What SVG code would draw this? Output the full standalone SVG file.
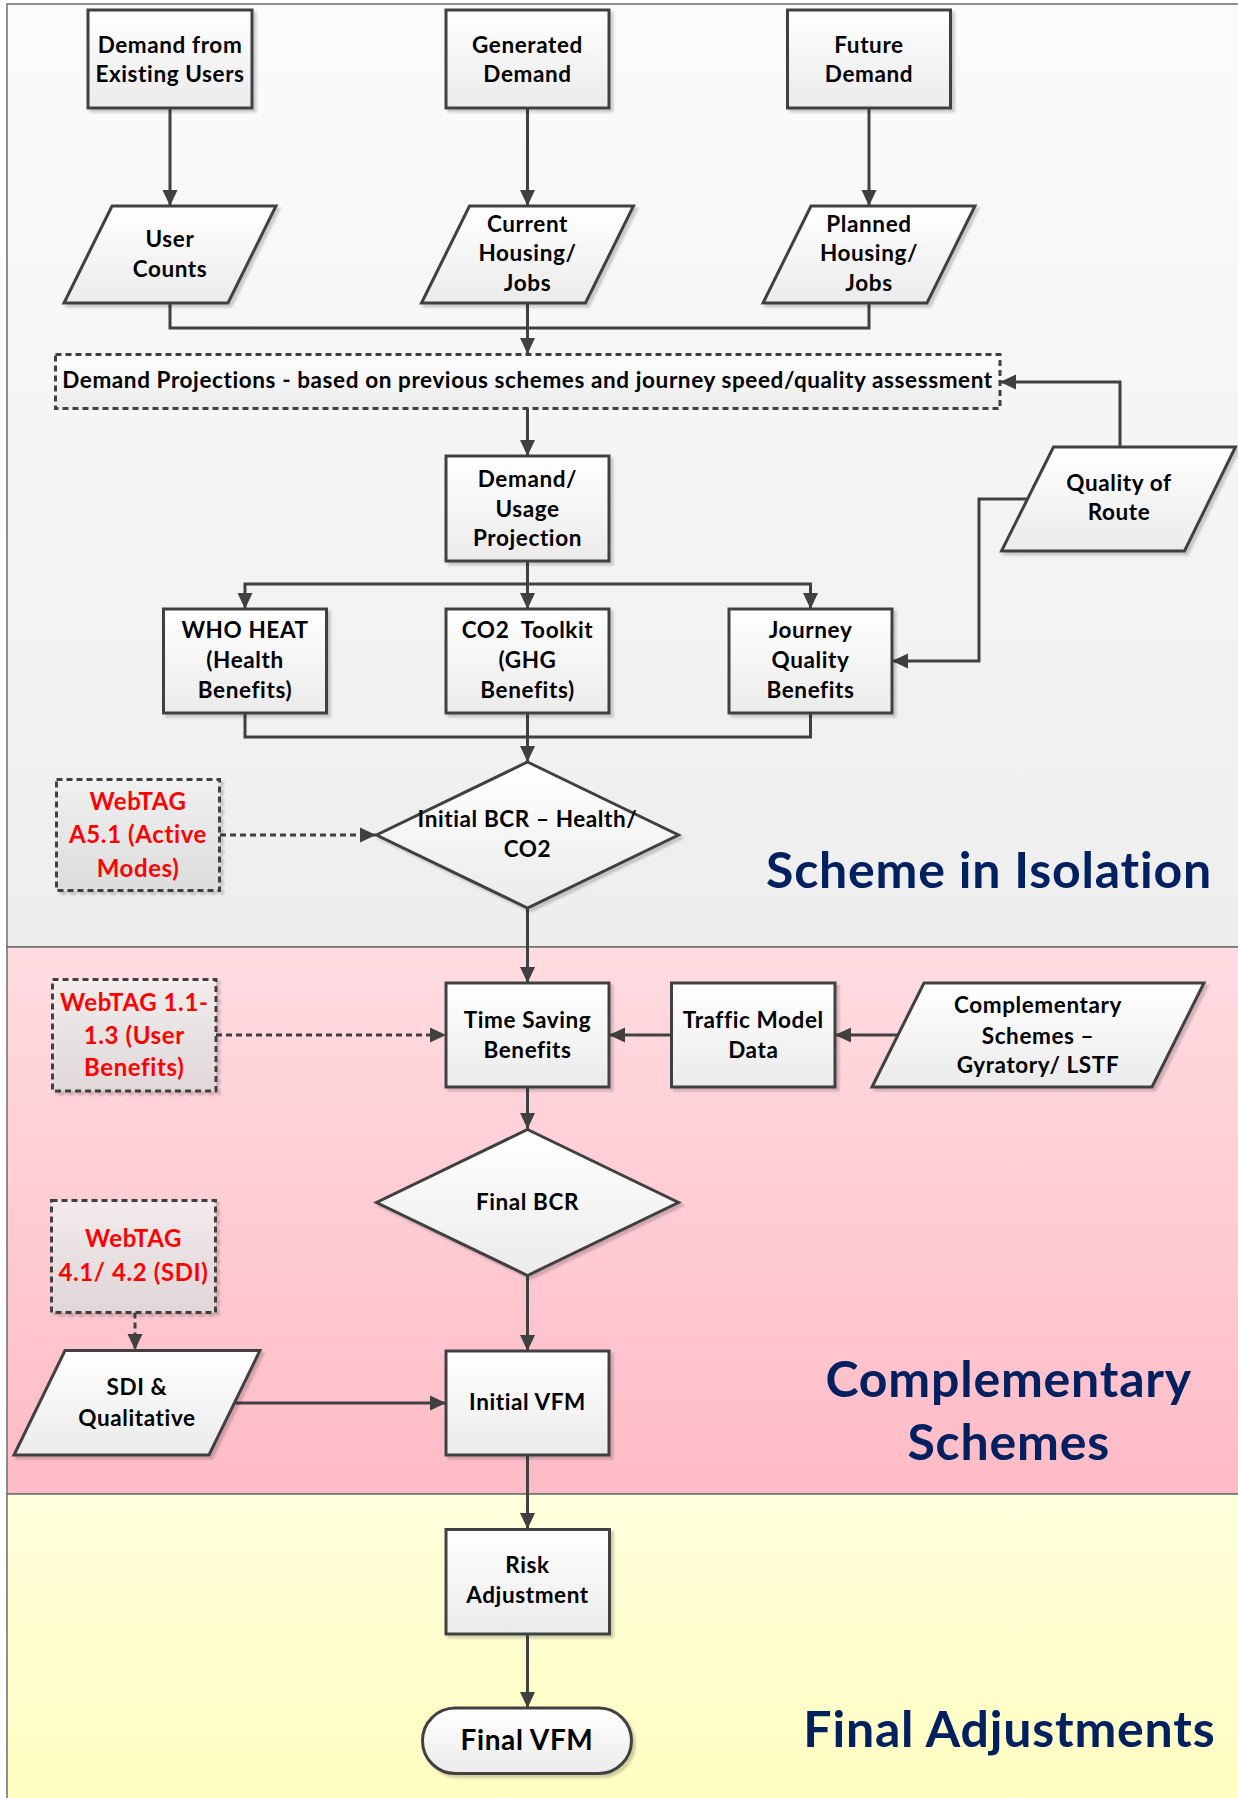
<svg xmlns="http://www.w3.org/2000/svg" width="1238" height="1798" viewBox="0 0 1238 1798">
<defs>
<linearGradient id="bg1" x1="0" y1="0" x2="0" y2="1"><stop offset="0" stop-color="#FBFBFB"/><stop offset="1" stop-color="#EEEEEE"/></linearGradient>
<linearGradient id="bg2" x1="0" y1="0" x2="0" y2="1"><stop offset="0" stop-color="#FFDCE1"/><stop offset="1" stop-color="#FFBBC6"/></linearGradient>
<linearGradient id="bg3" x1="0" y1="0" x2="0" y2="1"><stop offset="0" stop-color="#FFFFDC"/><stop offset="1" stop-color="#FFFDC0"/></linearGradient>
<linearGradient id="nodeFill" x1="0" y1="0" x2="0" y2="1"><stop offset="0" stop-color="#FFFFFF"/><stop offset="1" stop-color="#EBEBEB"/></linearGradient>
<linearGradient id="refFill" x1="0" y1="0" x2="0" y2="1"><stop offset="0" stop-color="#F4F4F4" stop-opacity="0.8"/><stop offset="1" stop-color="#DCDCDC" stop-opacity="0.8"/></linearGradient>
<filter id="sh" x="-10%" y="-10%" width="130%" height="130%"><feDropShadow dx="3" dy="3" stdDeviation="1.2" flood-color="#000" flood-opacity="0.18"/></filter>
<marker id="ah" markerUnits="userSpaceOnUse" markerWidth="16" markerHeight="16" viewBox="0 0 16 16" refX="16" refY="8" orient="auto"><path d="M0,0.5 L16,8 L0,15.5 z" fill="#404040"/></marker>
</defs>
<style>
.shape{fill:url(#nodeFill);stroke:#404040;stroke-width:3;filter:url(#sh)}
.ref{fill:url(#refFill);stroke:#404040;stroke-width:3;stroke-dasharray:6 4;filter:url(#sh)}
.proj{fill:url(#nodeFill);stroke:#404040;stroke-width:3;stroke-dasharray:6 4}
.t{font-family:Lato,"Liberation Sans",sans-serif;font-weight:bold;font-size:22.5px;letter-spacing:0.6px;fill:#000;text-anchor:middle}
.r{font-family:Lato,"Liberation Sans",sans-serif;font-weight:bold;font-size:24px;letter-spacing:0.6px;fill:#FF0000;text-anchor:middle}
.title{font-family:Lato,"Liberation Sans",sans-serif;font-weight:bold;font-size:50px;letter-spacing:0.8px;fill:#002060;text-anchor:middle}
.c{fill:none;stroke:#404040;stroke-width:3;marker-end:url(#ah)}
.cn{fill:none;stroke:#404040;stroke-width:3}
.cd{fill:none;stroke:#404040;stroke-width:3;stroke-dasharray:6 4;marker-end:url(#ah)}
</style>
<rect x="0" y="0" width="1238" height="1798" fill="#FFFFFF"/>
<g id="sections">
<rect x="7" y="4" width="1240" height="943" fill="url(#bg1)" stroke="#6E6E6E" stroke-width="1.5"/>
<rect x="7" y="947" width="1240" height="547" fill="url(#bg2)" stroke="#6E6E6E" stroke-width="1.5"/>
<rect x="7" y="1494" width="1240" height="310" fill="url(#bg3)" stroke="#6E6E6E" stroke-width="1.5"/>
</g>
<g id="connectors">
<path class="c" d="M170,108 V206"/>
<path class="c" d="M527.5,108 V206"/>
<path class="c" d="M869,108 V206"/>
<path class="cn" d="M170,303 V328 H869 V303"/>
<path class="c" d="M527.5,303 V354"/>
<path class="c" d="M527.5,408 V456"/>
<path class="c" d="M1120,447 V382 H1000"/>
<path class="c" d="M527.5,561 V609"/>
<path class="c" d="M527.5,584 H245 V609"/>
<path class="c" d="M527.5,584 H810.5 V609"/>
<path class="cn" d="M245,713 V737 H810.5 V713"/>
<path class="c" d="M527.5,713 V762"/>
<path class="c" d="M1028,499 H979 V661 H892"/>
<path class="cd" d="M220,835 H376"/>
<path class="c" d="M527.5,908 V983"/>
<path class="cd" d="M216,1035 H446"/>
<path class="c" d="M671.5,1035 H609"/>
<path class="c" d="M898,1035 H835"/>
<path class="c" d="M527.5,1087 V1129"/>
<path class="c" d="M527.5,1276 V1351"/>
<path class="cd" d="M135,1312.5 V1350"/>
<path class="c" d="M234.5,1403 H446"/>
<path class="c" d="M527.5,1455 V1529"/>
<path class="c" d="M527.5,1634 V1708"/>
</g>
<g id="n-demand-existing"><rect class="shape" x="88" y="10" width="164" height="98"/><text class="t" x="170" y="52.5">Demand from</text><text class="t" x="170" y="82">Existing Users</text></g>
<g id="n-generated"><rect class="shape" x="446" y="10" width="163" height="98"/><text class="t" x="527.5" y="52.5">Generated</text><text class="t" x="527.5" y="82">Demand</text></g>
<g id="n-future"><rect class="shape" x="787.5" y="10" width="163" height="98"/><text class="t" x="869" y="52.5">Future</text><text class="t" x="869" y="82">Demand</text></g>
<g id="n-user-counts"><polygon class="shape" points="112,206 276,206 228,303 64,303"/><text class="t" x="170" y="246.7">User</text><text class="t" x="170" y="276.7">Counts</text></g>
<g id="n-current"><polygon class="shape" points="469.5,206 633.5,206 585.5,303 421.5,303"/><text class="t" x="527.5" y="231.7">Current</text><text class="t" x="527.5" y="261.3">Housing/</text><text class="t" x="527.5" y="291">Jobs</text></g>
<g id="n-planned"><polygon class="shape" points="811,206 975,206 927,303 763,303"/><text class="t" x="869" y="231.7">Planned</text><text class="t" x="869" y="261.3">Housing/</text><text class="t" x="869" y="291">Jobs</text></g>
<g id="n-projections"><rect class="proj" x="55.5" y="354.5" width="944.5" height="54"/><text class="t" x="527.5" y="388">Demand Projections - based on previous schemes and journey speed/quality assessment</text></g>
<g id="n-quality-route"><polygon class="shape" points="1053.5,447 1235.5,447 1184.5,551 1001.5,551"/><text class="t" x="1119" y="490.7">Quality of</text><text class="t" x="1119" y="520">Route</text></g>
<g id="n-usage"><rect class="shape" x="446" y="456" width="163" height="105"/><text class="t" x="527.5" y="486.7">Demand/</text><text class="t" x="527.5" y="516.7">Usage</text><text class="t" x="527.5" y="546">Projection</text></g>
<g id="n-who"><rect class="shape" x="163.5" y="609" width="163" height="104"/><text class="t" x="245" y="638.3">WHO HEAT</text><text class="t" x="245" y="668">(Health</text><text class="t" x="245" y="697.7">Benefits)</text></g>
<g id="n-co2"><rect class="shape" x="446" y="609" width="163" height="104"/><text class="t" x="527.5" y="638.3" style="white-space:pre">CO2  Toolkit</text><text class="t" x="527.5" y="668">(GHG</text><text class="t" x="527.5" y="697.7">Benefits)</text></g>
<g id="n-journey"><rect class="shape" x="729" y="609" width="163" height="104"/><text class="t" x="810.5" y="638.3">Journey</text><text class="t" x="810.5" y="668">Quality</text><text class="t" x="810.5" y="697.7">Benefits</text></g>
<g id="n-initial-bcr"><polygon class="shape" points="527.5,762 678.5,835 527.5,908 376.5,835"/><text class="t" x="527.5" y="827.3">Initial BCR – Health/</text><text class="t" x="527.5" y="856.7">CO2</text></g>
<g id="n-webtag-a51"><rect class="ref" x="56.5" y="779.5" width="163" height="111"/><text class="r" x="138" y="810">WebTAG</text><text class="r" x="138" y="843.3">A5.1 (Active</text><text class="r" x="138" y="876.7">Modes)</text></g>
<g id="n-time-saving"><rect class="shape" x="446" y="983" width="163" height="104"/><text class="t" x="527.5" y="1027.5">Time Saving</text><text class="t" x="527.5" y="1057.9">Benefits</text></g>
<g id="n-webtag-11"><rect class="ref" x="52.5" y="979.5" width="163.5" height="111.5"/><text class="r" x="134.2" y="1010.7">WebTAG 1.1-</text><text class="r" x="134.2" y="1043.6">1.3 (User</text><text class="r" x="134.2" y="1075.7">Benefits)</text></g>
<g id="n-traffic"><rect class="shape" x="671.5" y="983" width="163.5" height="104"/><text class="t" x="753.3" y="1027.5">Traffic Model</text><text class="t" x="753.3" y="1057.9">Data</text></g>
<g id="n-complementary"><polygon class="shape" points="924,983 1204,983 1152,1087 872,1087"/><text class="t" x="1038" y="1013.2">Complementary</text><text class="t" x="1038" y="1043.6">Schemes –</text><text class="t" x="1038" y="1072.9">Gyratory/ LSTF</text></g>
<g id="n-final-bcr"><polygon class="shape" points="527.5,1129.5 678.5,1202.5 527.5,1275.5 376.5,1202.5"/><text class="t" x="527.5" y="1209.6">Final BCR</text></g>
<g id="n-webtag-41"><rect class="ref" x="51.5" y="1200.5" width="164" height="112"/><text class="r" x="133.5" y="1247">WebTAG</text><text class="r" x="133.5" y="1281">4.1/ 4.2 (SDI)</text></g>
<g id="n-sdi"><polygon class="shape" points="65,1350.5 260,1350.5 209,1455 14,1455"/><text class="t" x="137" y="1395.4">SDI &amp;</text><text class="t" x="137" y="1425.7">Qualitative</text></g>
<g id="n-initial-vfm"><rect class="shape" x="446" y="1351" width="163" height="104"/><text class="t" x="527.5" y="1409.6">Initial VFM</text></g>
<g id="n-risk"><rect class="shape" x="446" y="1529.5" width="163.5" height="104.5"/><text class="t" x="527.5" y="1573.3">Risk</text><text class="t" x="527.5" y="1603.3">Adjustment</text></g>
<g id="n-final-vfm"><rect class="shape" x="422.5" y="1708" width="209" height="65.5" rx="32.7"/><text class="t" x="527" y="1750" style="font-size:28px">Final VFM</text></g>
<g id="titles">
<text class="title" x="989" y="888.3">Scheme in Isolation</text>
<text class="title" x="1008.7" y="1397">Complementary</text>
<text class="title" x="1008.7" y="1459.6">Schemes</text>
<text class="title" x="1009.4" y="1746.7">Final Adjustments</text>
</g>
</svg>
